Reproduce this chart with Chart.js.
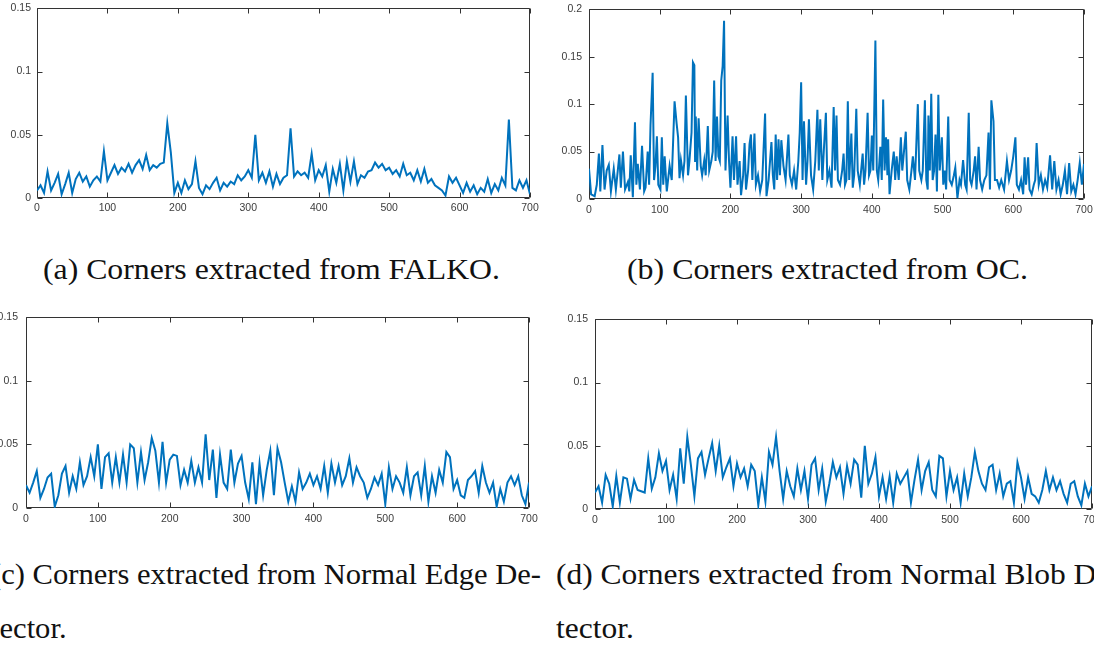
<!DOCTYPE html>
<html>
<head>
<meta charset="utf-8">
<title>Corner response traces</title>
<script src="https://cdn.jsdelivr.net/npm/chart.js@4.4.1/dist/chart.umd.min.js"></script>
<style>
  html, body { margin: 0; padding: 0; background: #fff; }
  body { position: relative; width: 1094px; height: 650px; overflow: hidden; }
  canvas.panel { position: absolute; }
  .cap {
    position: absolute;
    white-space: nowrap;
    font-family: "Liberation Serif", "Times New Roman", serif;
    font-size: 29px;
    line-height: 29px;
    color: #111;
    transform-origin: 0 0;
  }
</style>
</head>
<body>
<script>
// ---- tick labels ----------------------------------------------------------
const xTickValues = [0, 100, 200, 300, 400, 500, 600, 700];
const yTicksLow = [0, 0.05, 0.1, 0.15];
const yTicksHigh = [0, 0.05, 0.1, 0.15, 0.2];

// ---- captions ---------------------------------------------------------------
const captionFalko = '(a) Corners extracted from FALKO.';
const captionOC = '(b) Corners extracted from OC.';
const captionEdge = ['(c) Corners extracted from Normal Edge De-', 'tector.'];
const captionBlob = ['(d) Corners extracted from Normal Blob De-', 'tector.'];

// ---- series: FALKO, edge and blob are sampled every SAMPLE_STEP frames -------
const SAMPLE_STEP = 5;

const falkoValues = [
  0.006, 0.010, 0.004, 0.021, 0.006, 0.012, 0.019, 0.003, 0.011, 0.020,
  0.004, 0.015, 0.020, 0.013, 0.017, 0.009, 0.014, 0.017, 0.013, 0.037,
  0.014, 0.020, 0.026, 0.019, 0.024, 0.021, 0.027, 0.020, 0.026, 0.030,
  0.023, 0.034, 0.022, 0.026, 0.024, 0.027, 0.028, 0.059, 0.036, 0.004,
  0.012, 0.004, 0.014, 0.007, 0.011, 0.029, 0.008, 0.003, 0.010, 0.007,
  0.012, 0.016, 0.006, 0.012, 0.009, 0.013, 0.011, 0.018, 0.014, 0.017,
  0.022, 0.016, 0.050, 0.014, 0.020, 0.012, 0.021, 0.009, 0.019, 0.011,
  0.016, 0.018, 0.055, 0.017, 0.021, 0.018, 0.020, 0.016, 0.035, 0.014,
  0.022, 0.017, 0.026, 0.005, 0.023, 0.012, 0.027, 0.006, 0.029, 0.013,
  0.029, 0.011, 0.018, 0.016, 0.021, 0.022, 0.028, 0.024, 0.027, 0.022,
  0.024, 0.019, 0.022, 0.017, 0.027, 0.018, 0.020, 0.014, 0.022, 0.013,
  0.023, 0.012, 0.015, 0.010, 0.008, 0.006, 0.002, 0.017, 0.012, 0.016,
  0.010, 0.004, 0.012, 0.005, 0.010, 0.003, 0.008, 0.005, 0.015, 0.004,
  0.011, 0.006, 0.016, 0.010, 0.062, 0.008, 0.006, 0.014, 0.008, 0.014,
  0.003
];

const edgeValues = [
  0.018, 0.012, 0.020, 0.029, 0.008, 0.015, 0.024, 0.027, 0.001, 0.010,
  0.027, 0.033, 0.012, 0.025, 0.015, 0.036, 0.018, 0.025, 0.040, 0.025,
  0.050, 0.015, 0.040, 0.043, 0.020, 0.040, 0.020, 0.042, 0.020, 0.050,
  0.047, 0.020, 0.044, 0.022, 0.036, 0.055, 0.045, 0.020, 0.052, 0.020,
  0.038, 0.042, 0.041, 0.018, 0.030, 0.020, 0.037, 0.020, 0.032, 0.020,
  0.058, 0.022, 0.046, 0.008, 0.042, 0.020, 0.015, 0.046, 0.020, 0.035,
  0.041, 0.020, 0.007, 0.036, 0.003, 0.035, 0.010, 0.030, 0.045, 0.010,
  0.047, 0.036, 0.020, 0.005, 0.017, 0.005, 0.028, 0.015, 0.020, 0.027,
  0.018, 0.025, 0.015, 0.033, 0.012, 0.035, 0.020, 0.033, 0.018, 0.025,
  0.039, 0.020, 0.032, 0.025, 0.020, 0.008, 0.015, 0.024, 0.018, 0.027,
  0.003, 0.032, 0.015, 0.025, 0.020, 0.012, 0.032, 0.010, 0.025, 0.028,
  0.010, 0.033, 0.005, 0.025, 0.012, 0.030, 0.020, 0.044, 0.040, 0.015,
  0.022, 0.010, 0.008, 0.022, 0.025, 0.029, 0.012, 0.033, 0.020, 0.012,
  0.020, 0.001, 0.015, 0.005, 0.020, 0.025, 0.018, 0.025, 0.010, 0.003,
  0.020
];

const blobValues = [
  0.013, 0.018, 0.005, 0.027, 0.020, 0.002, 0.026, 0.005, 0.025, 0.024,
  0.008, 0.023, 0.015, 0.014, 0.013, 0.040, 0.016, 0.025, 0.044, 0.030,
  0.038, 0.015, 0.027, 0.008, 0.048, 0.020, 0.057, 0.035, 0.010, 0.040,
  0.045, 0.027, 0.040, 0.052, 0.030, 0.050, 0.025, 0.033, 0.040, 0.018,
  0.036, 0.025, 0.032, 0.018, 0.035, 0.030, 0.003, 0.025, 0.006, 0.045,
  0.035, 0.057, 0.030, 0.008, 0.030, 0.018, 0.010, 0.032, 0.015, 0.030,
  0.008, 0.035, 0.040, 0.015, 0.032, 0.006, 0.020, 0.037, 0.025, 0.033,
  0.012, 0.034, 0.020, 0.039, 0.035, 0.009, 0.050, 0.020, 0.028, 0.041,
  0.010, 0.025, 0.008, 0.026, 0.005, 0.028, 0.020, 0.025, 0.030, 0.005,
  0.023, 0.039, 0.015, 0.030, 0.037, 0.015, 0.010, 0.042, 0.040, 0.010,
  0.030, 0.015, 0.025, 0.005, 0.028, 0.010, 0.025, 0.045, 0.030, 0.020,
  0.015, 0.033, 0.035, 0.015, 0.028, 0.010, 0.020, 0.022, 0.005, 0.037,
  0.025, 0.008, 0.025, 0.012, 0.010, 0.005, 0.015, 0.030, 0.015, 0.025,
  0.015, 0.022, 0.012, 0.005, 0.020, 0.022, 0.010, 0.003, 0.020, 0.010,
  0.018
];

// ---- series: OC is kept at the frames where its peaks and dips sit ----------
const ocFrames = [
  0, 3, 8, 11, 14, 16, 19, 22, 25, 28,
  31, 35, 38, 43, 45, 48, 51, 55, 57, 59,
  62, 65, 67, 69, 72, 75, 78, 80, 83, 85,
  87, 90, 92, 94, 96, 98, 101, 103, 105, 107,
  110, 114, 117, 121, 124, 126, 128, 130, 133, 135,
  137, 140, 142, 145, 147, 149, 150, 151, 153, 155,
  158, 160, 163, 165, 168, 170, 173, 175, 177, 179,
  181, 183, 185, 187, 189, 191, 193, 196, 198, 200,
  203, 205, 208, 210, 213, 215, 218, 220, 222, 225,
  227, 229, 231, 234, 236, 239, 242, 245, 249, 251,
  254, 258, 260, 262, 264, 266, 268, 270, 272, 275,
  278, 282, 284, 287, 290, 293, 296, 298, 300, 302,
  304, 307, 309, 311, 314, 317, 320, 323, 325, 327,
  330, 332, 335, 337, 340, 343, 346, 348, 350, 352,
  355, 358, 360, 362, 364, 366, 368, 371, 373, 375,
  378, 380, 383, 387, 389, 391, 394, 396, 398, 400,
  402, 405, 407, 409, 412, 414, 416, 418, 420, 422,
  423, 425, 428, 431, 433, 435, 438, 441, 443, 446,
  448, 450, 453, 456, 458, 461, 463, 465, 467, 470,
  472, 475, 477, 479, 480, 482, 484, 486, 488, 490,
  492, 494, 496, 499, 501, 503, 505, 508, 510, 513,
  516, 518, 521, 524, 526, 529, 532, 534, 537, 539,
  541, 544, 546, 548, 551, 553, 556, 559, 562, 565,
  567, 569, 572, 574, 577, 580, 583, 587, 591, 594,
  597, 600, 603, 605, 608, 611, 614, 616, 618, 621,
  623, 626, 629, 631, 633, 636, 639, 642, 645, 648,
  652, 655, 658, 661, 664, 667, 670, 673, 676, 679,
  682, 685, 688, 691, 694, 697, 700
];

const ocValues = [
  0.032, 0.005, 0.003, 0.015, 0.048, 0.008, 0.057, 0.010, 0.030, 0.036,
  0.008, 0.032, 0.010, 0.047, 0.012, 0.050, 0.010, 0.018, 0.008, 0.046,
  0.002, 0.081, 0.015, 0.037, 0.010, 0.056, 0.008, 0.012, 0.050, 0.015,
  0.078, 0.133, 0.020, 0.035, 0.066, 0.015, 0.010, 0.065, 0.015, 0.045,
  0.008, 0.035, 0.020, 0.103, 0.079, 0.065, 0.022, 0.041, 0.025, 0.040,
  0.109, 0.025, 0.040, 0.070, 0.144, 0.141, 0.040, 0.087, 0.030, 0.085,
  0.035, 0.025, 0.041, 0.025, 0.077, 0.030, 0.040, 0.050, 0.125, 0.040,
  0.087, 0.045, 0.040, 0.125, 0.140, 0.188, 0.030, 0.088, 0.040, 0.012,
  0.066, 0.020, 0.066, 0.015, 0.040, 0.004, 0.025, 0.059, 0.010, 0.030,
  0.058, 0.068, 0.020, 0.069, 0.015, 0.025, 0.008, 0.020, 0.090, 0.003,
  0.020, 0.060, 0.025, 0.010, 0.068, 0.020, 0.063, 0.025, 0.062, 0.035,
  0.020, 0.068, 0.025, 0.015, 0.030, 0.010, 0.040, 0.070, 0.123, 0.020,
  0.082, 0.015, 0.040, 0.084, 0.025, 0.010, 0.040, 0.094, 0.030, 0.084,
  0.020, 0.050, 0.091, 0.020, 0.030, 0.012, 0.097, 0.030, 0.088, 0.020,
  0.015, 0.030, 0.048, 0.015, 0.020, 0.103, 0.020, 0.069, 0.012, 0.025,
  0.095, 0.030, 0.015, 0.048, 0.015, 0.030, 0.091, 0.025, 0.030, 0.067,
  0.030, 0.167, 0.030, 0.020, 0.055, 0.020, 0.105, 0.030, 0.065, 0.025,
  0.063, 0.005, 0.030, 0.050, 0.020, 0.045, 0.020, 0.065, 0.030, 0.055,
  0.071, 0.020, 0.010, 0.030, 0.045, 0.020, 0.060, 0.100, 0.030, 0.020,
  0.030, 0.104, 0.020, 0.010, 0.088, 0.030, 0.111, 0.020, 0.030, 0.068,
  0.008, 0.110, 0.030, 0.065, 0.015, 0.030, 0.010, 0.087, 0.020, 0.015,
  0.025, 0.033, 0.001, 0.020, 0.015, 0.041, 0.015, 0.010, 0.091, 0.020,
  0.015, 0.030, 0.045, 0.010, 0.055, 0.020, 0.010, 0.020, 0.025, 0.070,
  0.010, 0.104, 0.082, 0.020, 0.020, 0.012, 0.020, 0.010, 0.040, 0.020,
  0.030, 0.045, 0.065, 0.015, 0.010, 0.020, 0.005, 0.044, 0.015, 0.044,
  0.010, 0.005, 0.015, 0.020, 0.059, 0.015, 0.025, 0.010, 0.020, 0.012,
  0.046, 0.010, 0.040, 0.010, 0.020, 0.005, 0.015, 0.030, 0.005, 0.038,
  0.008, 0.015, 0.005, 0.020, 0.038, 0.015, 0.037
];

// ---- styling -----------------------------------------------------------------
const LINE_COLOR = '#0072BD';
const AXIS_COLOR = '#333333';
const LABEL_COLOR = '#3c3c3c';
const TICK_FONT = { family: '"Liberation Sans", Arial, Helvetica, sans-serif', size: 10.5 };
const INNER_TICK = 5;      // inward tick-mark length
const PAD_L = 50, PAD_T = 12, PAD_R = 14, PAD_B = 28;

// Box outline with MATLAB-style inward ticks on all four sides.
const boxedAxes = {
  id: 'boxedAxes',
  beforeDatasetsDraw(chart) {
    const { ctx, chartArea: a, scales: { x, y } } = chart;
    const L = Math.round(a.left) + 0.5, R = Math.round(a.right) - 0.5;
    const T = Math.round(a.top) + 0.5, B = Math.round(a.bottom) - 0.5;
    ctx.save();
    ctx.strokeStyle = AXIS_COLOR;
    ctx.lineWidth = 1;
    ctx.beginPath();
    ctx.rect(L, T, R - L, B - T);
    x.ticks.forEach(t => {
      const px = Math.round(x.getPixelForValue(t.value)) + 0.5;
      ctx.moveTo(px, B); ctx.lineTo(px, B - INNER_TICK);
      ctx.moveTo(px, T); ctx.lineTo(px, T + INNER_TICK);
    });
    y.ticks.forEach(t => {
      const py = Math.round(y.getPixelForValue(t.value)) + 0.5;
      ctx.moveTo(L, py); ctx.lineTo(L + INNER_TICK, py);
      ctx.moveTo(R, py); ctx.lineTo(R - INNER_TICK, py);
    });
    ctx.stroke();
    ctx.restore();
  }
};

function framesFor(values) {
  return values.map((_, i) => i * SAMPLE_STEP);
}

function makePanel(p) {
  const canvas = document.createElement('canvas');
  canvas.className = 'panel';
  const w = (p.box.r - p.box.l) + PAD_L + PAD_R;
  const h = (p.box.b - p.box.t) + PAD_T + PAD_B;
  canvas.width = w; canvas.height = h;
  canvas.style.width = w + 'px'; canvas.style.height = h + 'px';
  canvas.style.left = (p.box.l - PAD_L) + 'px';
  canvas.style.top = (p.box.t - PAD_T) + 'px';
  document.body.appendChild(canvas);

  const points = p.frames.map((f, i) => ({ x: f, y: p.values[i] }));

  new Chart(canvas, {
    type: 'line',
    data: {
      datasets: [{
        data: points,
        borderColor: LINE_COLOR,
        borderWidth: 2,
        pointRadius: 0,
        tension: 0,
        fill: false
      }]
    },
    options: {
      responsive: false,
      animation: false,
      devicePixelRatio: 1,
      events: [],
      layout: { padding: { left: 0, top: PAD_T, right: PAD_R, bottom: 0 } },
      plugins: { legend: { display: false }, tooltip: { enabled: false } },
      scales: {
        x: {
          type: 'linear', min: 0, max: 700,
          grid: { display: false, drawTicks: false },
          border: { display: false },
          afterBuildTicks: s => { s.ticks = xTickValues.map(v => ({ value: v })); },
          afterFit: s => { s.height = PAD_B; },
          ticks: {
            padding: p.xPad, color: LABEL_COLOR, font: TICK_FONT,
            maxRotation: 0, autoSkip: false, callback: v => String(v)
          }
        },
        y: {
          type: 'linear', min: 0, max: p.yMax,
          grid: { display: false, drawTicks: false },
          border: { display: false },
          afterBuildTicks: s => { s.ticks = p.yTicks.map(v => ({ value: v })); },
          afterFit: s => { s.width = PAD_L; },
          ticks: {
            padding: p.yPad, color: LABEL_COLOR, font: TICK_FONT,
            autoSkip: false, callback: v => String(v)
          }
        }
      }
    },
    plugins: [boxedAxes]
  });
}

makePanel({ box: { l: 37, t: 8, r: 530, b: 198 }, yMax: 0.15, yTicks: yTicksLow,
            frames: framesFor(falkoValues), values: falkoValues, yPad: 6, xPad: 4 });
makePanel({ box: { l: 589, t: 8, r: 1084, b: 199 }, yMax: 0.2, yTicks: yTicksHigh,
            frames: ocFrames, values: ocValues, yPad: 7, xPad: 5 });
makePanel({ box: { l: 26, t: 315, r: 529, b: 508 }, yMax: 0.15, yTicks: yTicksLow,
            frames: framesFor(edgeValues), values: edgeValues, yPad: 8, xPad: 5 });
makePanel({ box: { l: 595, t: 318, r: 1092, b: 509 }, yMax: 0.15, yTicks: yTicksLow,
            frames: framesFor(blobValues), values: blobValues, yPad: 7, xPad: 5 });

// ---- captions: serif text placed by its baseline and stretched to width -----
function placeCaption(text, x, baseline) {
  const div = document.createElement('div');
  div.className = 'cap';
  const span = document.createElement('span');
  span.textContent = text;
  const mark = document.createElement('span');
  mark.style.cssText = 'display:inline-block;width:0;height:0;vertical-align:baseline';
  div.append(span, mark);
  div.style.left = x + 'px';
  div.style.top = '0px';
  document.body.appendChild(div);
  const off = mark.getBoundingClientRect().top - div.getBoundingClientRect().top;
  div.style.top = (baseline - off) + 'px';
  return { div, width: span.getBoundingClientRect().width };
}
function stretch(c, scale) { c.div.style.transform = 'scaleX(' + scale + ')'; }

const capA = placeCaption(captionFalko, 43, 279);
stretch(capA, 457 / capA.width);
const capB = placeCaption(captionOC, 627, 279);
stretch(capB, 401 / capB.width);

const capC1 = placeCaption(captionEdge[0], -9, 584);
const edgeScale = 550 / capC1.width;
stretch(capC1, edgeScale);
stretch(placeCaption(captionEdge[1], -9, 638), edgeScale);
const blobScale = edgeScale * 1.03;
stretch(placeCaption(captionBlob[0], 556, 584), blobScale);
stretch(placeCaption(captionBlob[1], 556, 638), blobScale);
</script>
</body>
</html>
